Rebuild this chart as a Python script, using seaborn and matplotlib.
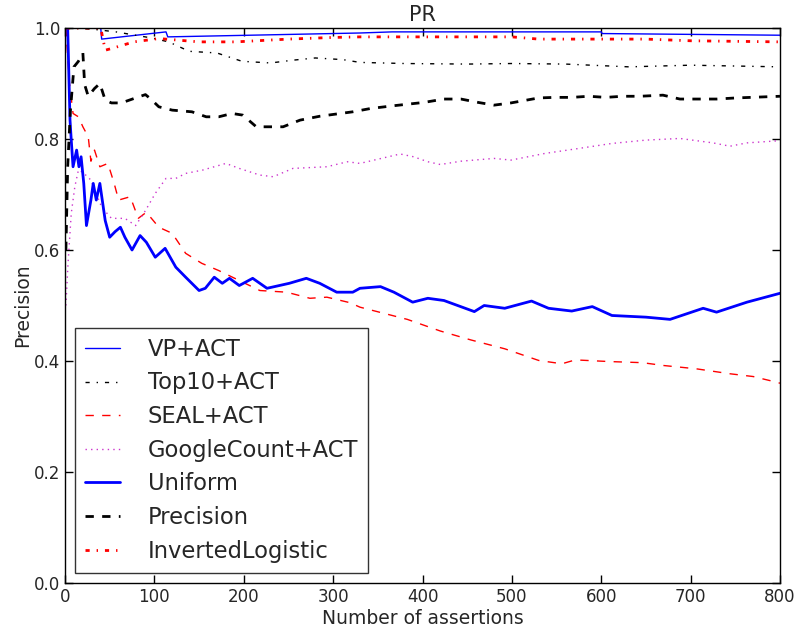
import matplotlib
matplotlib.use("Agg")
import matplotlib.pyplot as plt
import seaborn as sns
import pandas as pd

# ---- data ----
vp_x = [1, 40, 41, 113, 115, 330, 366, 600, 601, 800]
vp_y = [1.0, 1.0, 0.98, 0.993, 0.984, 0.991, 0.993, 0.993, 0.99, 0.987]

top10_x = [1, 30, 57, 97, 116, 139, 170, 198, 230, 255, 280, 311, 330, 380, 450, 500, 560, 631, 700, 800]
top10_y = [1.0, 0.998, 0.993, 0.982, 0.975, 0.958, 0.955, 0.94, 0.937, 0.942, 0.946, 0.943, 0.938,
           0.936, 0.935, 0.936, 0.935, 0.93, 0.933, 0.93]

seal_x = [1, 3, 5, 9, 15, 20, 26, 29, 33, 39, 48, 55, 60, 73, 82, 91, 105, 120, 135, 153, 172, 195,
          218, 248, 274, 293, 319, 330, 383, 420, 454, 492, 530, 556, 571, 609, 646, 669, 706, 744,
          770, 793, 800]
seal_y = [1.0, 0.95, 0.9, 0.846, 0.84, 0.822, 0.804, 0.76, 0.78, 0.75, 0.756, 0.72, 0.69, 0.696, 0.657,
          0.668, 0.641, 0.63, 0.594, 0.576, 0.563, 0.545, 0.527, 0.524, 0.513, 0.515, 0.505, 0.497,
          0.475, 0.454, 0.438, 0.422, 0.401, 0.395, 0.402, 0.399, 0.397, 0.392, 0.386, 0.377, 0.372,
          0.363, 0.36]

google_x = [1, 3.4, 7, 11, 15, 20, 29, 41, 52, 67, 79, 90, 101, 113, 124, 135, 154, 180, 195, 218,
            233, 255, 293, 316, 330, 375, 390, 406, 420, 443, 480, 499, 537, 575, 612, 650, 688, 725,
            744, 763, 800]
google_y = [0.5, 0.576, 0.666, 0.714, 0.744, 0.74, 0.726, 0.677, 0.657, 0.657, 0.644, 0.671, 0.702,
            0.729, 0.729, 0.738, 0.744, 0.756, 0.747, 0.735, 0.732, 0.747, 0.75, 0.759, 0.756, 0.773,
            0.768, 0.759, 0.754, 0.76, 0.765, 0.762, 0.774, 0.783, 0.792, 0.798, 0.801, 0.793, 0.787,
            0.793, 0.797]

uniform_x = [1, 3, 5.6, 7, 9, 13, 15.6, 18, 21, 24, 29, 31.6, 35, 39, 45, 50, 56, 62, 67, 75, 84, 91,
             101, 112, 124, 135, 150, 157, 167, 176, 184, 195, 210, 226, 251, 270, 285, 304, 322, 330,
             353, 368, 389, 406, 424, 458, 469, 492, 522, 541, 567, 590, 612, 650, 677, 714, 729, 763,
             800]
uniform_y = [1.0, 1.0, 0.834, 0.798, 0.75, 0.78, 0.75, 0.768, 0.72, 0.644, 0.69, 0.72, 0.69, 0.72,
             0.653, 0.623, 0.633, 0.641, 0.623, 0.6, 0.626, 0.614, 0.587, 0.603, 0.569, 0.551, 0.527,
             0.531, 0.551, 0.54, 0.549, 0.536, 0.549, 0.531, 0.54, 0.549, 0.54, 0.524, 0.524, 0.531,
             0.534, 0.524, 0.506, 0.513, 0.509, 0.489, 0.5, 0.495, 0.508, 0.495, 0.49, 0.498, 0.482,
             0.479, 0.475, 0.495, 0.488, 0.506, 0.522]

precision_x = [1, 3, 6, 10, 15, 20, 22, 26, 33, 39, 45, 52, 63, 79, 90, 96, 105, 120, 142, 158, 172,
               187, 199, 214, 229, 244, 263, 285, 322, 342, 368, 402, 424, 443, 462, 480, 499, 530,
               548, 567, 586, 605, 624, 643, 669, 688, 706, 729, 751, 800]
precision_y = [0.6, 0.75, 0.85, 0.93, 0.94, 0.955, 0.898, 0.877, 0.891, 0.9, 0.87, 0.865, 0.865, 0.874,
               0.88, 0.872, 0.858, 0.852, 0.849, 0.84, 0.84, 0.846, 0.843, 0.822, 0.822, 0.822, 0.834,
               0.841, 0.849, 0.855, 0.86, 0.866, 0.872, 0.872, 0.866, 0.861, 0.865, 0.874, 0.875, 0.875,
               0.877, 0.875, 0.877, 0.877, 0.879, 0.872, 0.872, 0.872, 0.874, 0.877]

invlog_x = [1, 40, 45, 52, 77, 105, 150, 191, 250, 300, 330, 500, 530, 650, 700, 800]
invlog_y = [1.0, 1.0, 0.96, 0.963, 0.975, 0.981, 0.975, 0.975, 0.98, 0.983, 0.984, 0.984, 0.98, 0.98,
            0.977, 0.975]

x_ticks = [0, 100, 200, 300, 400, 500, 600, 700, 800]
y_ticks = [0.0, 0.2, 0.4, 0.6, 0.8, 1.0]

series = [
    ("VP+ACT", vp_x, vp_y, "#0000ff", 1.0, "-"),
    ("Top10+ACT", top10_x, top10_y, "#000000", 1.0, (0, (3, 5, 1, 5))),
    ("SEAL+ACT", seal_x, seal_y, "#ff0000", 1.0, (0, (6, 6))),
    ("GoogleCount+ACT", google_x, google_y, "#cc33cc", 1.0, (0, (1, 3))),
    ("Uniform", uniform_x, uniform_y, "#0000ff", 2.0, "-"),
    ("Precision", precision_x, precision_y, "#000000", 2.0, (0, (6, 6))),
    ("InvertedLogistic", invlog_x, invlog_y, "#ff0000", 2.0, (0, (3, 5, 1, 5))),
]

sns.set_style("ticks", {"xtick.direction": "in", "ytick.direction": "in",
                        "axes.edgecolor": "black"})
plt.rcParams["font.family"] = ["DejaVu Sans"]
plt.rcParams["lines.scale_dashes"] = False

fig = plt.figure(figsize=(7.97, 6.30), dpi=100)
ax = fig.add_axes([65 / 797, 1 - 583 / 630, (780 - 65) / 797, (583 - 28) / 630])

for name, xs, ys, col, lw, ls in series:
    df = pd.DataFrame({"x": xs, "y": ys})
    sns.lineplot(data=df, x="x", y="y", ax=ax, color=col, linewidth=lw, linestyle=ls,
                 label=name, estimator=None, sort=False)

ax.set_xlim(0, 800)
ax.set_ylim(0, 1.0)
ax.set_xticks(x_ticks)
ax.set_yticks(y_ticks)
ax.set_xticklabels([str(t) for t in x_ticks])
ax.set_yticklabels([f"{t:.1f}" for t in y_ticks])
ax.tick_params(axis="both", which="major", labelsize=12, length=6, width=1,
               top=True, right=True, direction="in", color="black")
for s in ax.spines.values():
    s.set_visible(True)
    s.set_color("black")
    s.set_linewidth(1.0)

ax.set_xlabel("Number of assertions", fontsize=13.5, labelpad=2)
ax.set_ylabel("Precision", fontsize=13.5, labelpad=1)
ax.set_title("PR", fontsize=15, pad=5)

leg = ax.legend(loc="lower left", fontsize=16.3, fancybox=False, frameon=True,
                handlelength=1.55, handletextpad=1.2, borderpad=0.45, labelspacing=0.47,
                borderaxespad=0.45)
leg.get_frame().set_edgecolor("black")
leg.get_frame().set_linewidth(1.0)

fig.savefig("out.png", dpi=100)
